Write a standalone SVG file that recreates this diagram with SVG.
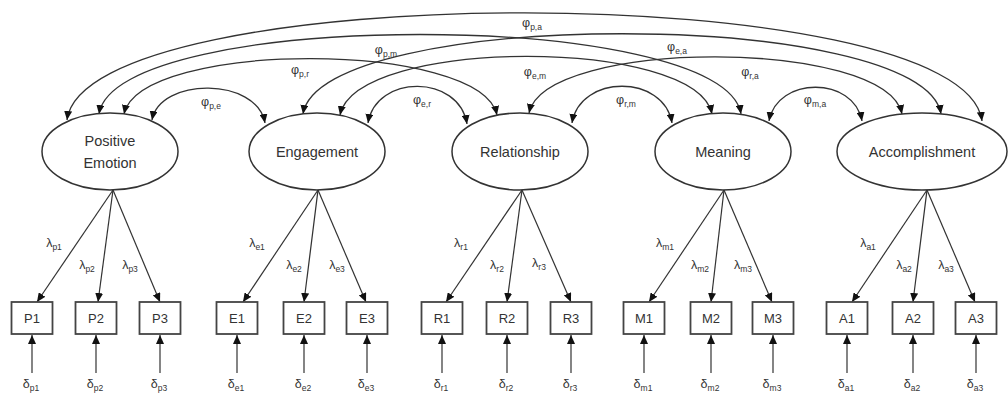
<svg xmlns="http://www.w3.org/2000/svg" width="1008" height="394" viewBox="0 0 1008 394">
<style>
text { font-family: "Liberation Sans", Arial, sans-serif; fill: #333; }
.ell { fill: #fff; stroke: #333; stroke-width: 1.5; }
.box { fill: #fff; stroke: #444; stroke-width: 1.8; }
.cov { fill: none; stroke: #333; stroke-width: 1.3; marker-start: url(#ah); marker-end: url(#ah); }
.ld { fill: none; stroke: #333; stroke-width: 1.2; marker-end: url(#ah); }
.nm { font-size: 14.5px; text-anchor: middle; }
.bx { font-size: 13px; text-anchor: middle; }
.gl { font-size: 12.5px; text-anchor: middle; }
.sub { font-size: 8.5px; }
</style>
<defs>
<marker id="ah" markerUnits="userSpaceOnUse" markerWidth="9" markerHeight="8" refX="9" refY="4" orient="auto-start-reverse">
<path d="M0,0 L9,4 L0,8 z" fill="#111"/>
</marker>
</defs>
<rect width="1008" height="394" fill="#fff"/>

<g id="connectors">
  <!-- covariances -->
  <path class="cov" d="M152,120 C160,77 257,77 265,123"/>
  <path class="cov" d="M368,123 C376,74 459,74 467,124"/>
  <path class="cov" d="M572,123 C580,74 664,74 672,123"/>
  <path class="cov" d="M769,121 C777,76 854,76 862,121"/>
  <path class="cov" d="M124,114 C140,40 481,40 497,115"/>
  <path class="cov" d="M340,115 C356,37 696,37 712,114"/>
  <path class="cov" d="M303,114 C320,7 924,7 941,114"/>
  <path class="cov" d="M99,114 C115,8 725,8 741,114"/>
  <path class="cov" d="M529,113 C545,38 886,38 902,114"/>
  <path class="cov" d="M67,120 C85,-23 964,-23 982,121"/>

  <!-- loadings -->
  <line class="ld" x1="113" y1="190" x2="37" y2="302"/>
  <line class="ld" x1="113" y1="190" x2="98" y2="302"/>
  <line class="ld" x1="113" y1="190" x2="160" y2="302"/>
  <line class="ld" x1="318" y1="190" x2="243" y2="302"/>
  <line class="ld" x1="318" y1="190" x2="304" y2="302"/>
  <line class="ld" x1="318" y1="190" x2="366" y2="302"/>
  <line class="ld" x1="522" y1="190" x2="446" y2="302"/>
  <line class="ld" x1="522" y1="190" x2="507" y2="302"/>
  <line class="ld" x1="522" y1="190" x2="571" y2="302"/>
  <line class="ld" x1="724" y1="190" x2="649" y2="302"/>
  <line class="ld" x1="724" y1="190" x2="711" y2="302"/>
  <line class="ld" x1="724" y1="190" x2="772" y2="302"/>
  <line class="ld" x1="927" y1="190" x2="852" y2="302"/>
  <line class="ld" x1="927" y1="190" x2="913" y2="302"/>
  <line class="ld" x1="927" y1="190" x2="975" y2="302"/>

  <!-- errors -->
  <line class="ld" x1="32" y1="373" x2="32" y2="335"/>
  <line class="ld" x1="96" y1="373" x2="96" y2="335"/>
  <line class="ld" x1="160" y1="373" x2="160" y2="335"/>
  <line class="ld" x1="237" y1="373" x2="237" y2="335"/>
  <line class="ld" x1="304" y1="373" x2="304" y2="335"/>
  <line class="ld" x1="367" y1="373" x2="367" y2="335"/>
  <line class="ld" x1="442" y1="373" x2="442" y2="335"/>
  <line class="ld" x1="507" y1="373" x2="507" y2="335"/>
  <line class="ld" x1="571" y1="373" x2="571" y2="335"/>
  <line class="ld" x1="644" y1="373" x2="644" y2="335"/>
  <line class="ld" x1="711" y1="373" x2="711" y2="335"/>
  <line class="ld" x1="773" y1="373" x2="773" y2="335"/>
  <line class="ld" x1="847" y1="373" x2="847" y2="335"/>
  <line class="ld" x1="913" y1="373" x2="913" y2="335"/>
  <line class="ld" x1="976" y1="373" x2="976" y2="335"/>

  <!-- covariance labels -->
  <text class="gl" x="211" y="106">φ<tspan class="sub" dy="3">p,e</tspan></text>
  <text class="gl" x="422" y="104">φ<tspan class="sub" dy="3">e,r</tspan></text>
  <text class="gl" x="626" y="104">φ<tspan class="sub" dy="3">r,m</tspan></text>
  <text class="gl" x="815" y="104">φ<tspan class="sub" dy="3">m,a</tspan></text>
  <text class="gl" x="300" y="74">φ<tspan class="sub" dy="3">p,r</tspan></text>
  <text class="gl" x="386" y="54">φ<tspan class="sub" dy="3">p,m</tspan></text>
  <text class="gl" x="535" y="76">φ<tspan class="sub" dy="3">e,m</tspan></text>
  <text class="gl" x="750" y="76">φ<tspan class="sub" dy="3">r,a</tspan></text>
  <text class="gl" x="677" y="51">φ<tspan class="sub" dy="3">e,a</tspan></text>
  <text class="gl" x="532" y="27">φ<tspan class="sub" dy="3">p,a</tspan></text>

  <!-- loading labels -->
  <text class="gl" x="54" y="247">λ<tspan class="sub" dy="3">p1</tspan></text>
  <text class="gl" x="87" y="269">λ<tspan class="sub" dy="3">p2</tspan></text>
  <text class="gl" x="130" y="269">λ<tspan class="sub" dy="3">p3</tspan></text>
  <text class="gl" x="257" y="247">λ<tspan class="sub" dy="3">e1</tspan></text>
  <text class="gl" x="294" y="269">λ<tspan class="sub" dy="3">e2</tspan></text>
  <text class="gl" x="337" y="269">λ<tspan class="sub" dy="3">e3</tspan></text>
  <text class="gl" x="461" y="247">λ<tspan class="sub" dy="3">r1</tspan></text>
  <text class="gl" x="497" y="269">λ<tspan class="sub" dy="3">r2</tspan></text>
  <text class="gl" x="539" y="267">λ<tspan class="sub" dy="3">r3</tspan></text>
  <text class="gl" x="665" y="247">λ<tspan class="sub" dy="3">m1</tspan></text>
  <text class="gl" x="700" y="269">λ<tspan class="sub" dy="3">m2</tspan></text>
  <text class="gl" x="743" y="269">λ<tspan class="sub" dy="3">m3</tspan></text>
  <text class="gl" x="868" y="247">λ<tspan class="sub" dy="3">a1</tspan></text>
  <text class="gl" x="904" y="269">λ<tspan class="sub" dy="3">a2</tspan></text>
  <text class="gl" x="946" y="269">λ<tspan class="sub" dy="3">a3</tspan></text>

  <!-- error labels -->
  <text class="gl" x="31" y="388">δ<tspan class="sub" dy="3">p1</tspan></text>
  <text class="gl" x="95" y="388">δ<tspan class="sub" dy="3">p2</tspan></text>
  <text class="gl" x="159" y="388">δ<tspan class="sub" dy="3">p3</tspan></text>
  <text class="gl" x="236" y="388">δ<tspan class="sub" dy="3">e1</tspan></text>
  <text class="gl" x="303" y="388">δ<tspan class="sub" dy="3">e2</tspan></text>
  <text class="gl" x="366" y="388">δ<tspan class="sub" dy="3">e3</tspan></text>
  <text class="gl" x="441" y="388">δ<tspan class="sub" dy="3">r1</tspan></text>
  <text class="gl" x="506" y="388">δ<tspan class="sub" dy="3">r2</tspan></text>
  <text class="gl" x="570" y="388">δ<tspan class="sub" dy="3">r3</tspan></text>
  <text class="gl" x="643" y="388">δ<tspan class="sub" dy="3">m1</tspan></text>
  <text class="gl" x="710" y="388">δ<tspan class="sub" dy="3">m2</tspan></text>
  <text class="gl" x="772" y="388">δ<tspan class="sub" dy="3">m3</tspan></text>
  <text class="gl" x="846" y="388">δ<tspan class="sub" dy="3">a1</tspan></text>
  <text class="gl" x="912" y="388">δ<tspan class="sub" dy="3">a2</tspan></text>
  <text class="gl" x="975" y="388">δ<tspan class="sub" dy="3">a3</tspan></text>
</g>

<g id="positive-emotion">
  <ellipse class="ell" cx="110" cy="151.5" rx="68" ry="38.5"/>
  <text class="nm" x="110" y="146">Positive</text>
  <text class="nm" x="110" y="168">Emotion</text>
</g>
<g id="engagement">
  <ellipse class="ell" cx="317" cy="151.5" rx="68" ry="38.5"/>
  <text class="nm" x="317" y="157">Engagement</text>
</g>
<g id="relationship">
  <ellipse class="ell" cx="520" cy="151.5" rx="68" ry="38.5"/>
  <text class="nm" x="520" y="157">Relationship</text>
</g>
<g id="meaning">
  <ellipse class="ell" cx="723" cy="151.5" rx="68" ry="38.5"/>
  <text class="nm" x="723" y="157">Meaning</text>
</g>
<g id="accomplishment">
  <ellipse class="ell" cx="922" cy="151.5" rx="85" ry="38.5"/>
  <text class="nm" x="922" y="157">Accomplishment</text>
</g>

<g id="P1"><rect class="box" x="11.5" y="302" width="41" height="32"/><text class="bx" x="32" y="323">P1</text></g>
<g id="P2"><rect class="box" x="75.5" y="302" width="41" height="32"/><text class="bx" x="96" y="323">P2</text></g>
<g id="P3"><rect class="box" x="139.5" y="302" width="41" height="32"/><text class="bx" x="160" y="323">P3</text></g>
<g id="E1"><rect class="box" x="216.5" y="302" width="41" height="32"/><text class="bx" x="237" y="323">E1</text></g>
<g id="E2"><rect class="box" x="283.5" y="302" width="41" height="32"/><text class="bx" x="304" y="323">E2</text></g>
<g id="E3"><rect class="box" x="346.5" y="302" width="41" height="32"/><text class="bx" x="367" y="323">E3</text></g>
<g id="R1"><rect class="box" x="421.5" y="302" width="41" height="32"/><text class="bx" x="442" y="323">R1</text></g>
<g id="R2"><rect class="box" x="486.5" y="302" width="41" height="32"/><text class="bx" x="507" y="323">R2</text></g>
<g id="R3"><rect class="box" x="550.5" y="302" width="41" height="32"/><text class="bx" x="571" y="323">R3</text></g>
<g id="M1"><rect class="box" x="623.5" y="302" width="41" height="32"/><text class="bx" x="644" y="323">M1</text></g>
<g id="M2"><rect class="box" x="690.5" y="302" width="41" height="32"/><text class="bx" x="711" y="323">M2</text></g>
<g id="M3"><rect class="box" x="752.5" y="302" width="41" height="32"/><text class="bx" x="773" y="323">M3</text></g>
<g id="A1"><rect class="box" x="826.5" y="302" width="41" height="32"/><text class="bx" x="847" y="323">A1</text></g>
<g id="A2"><rect class="box" x="892.5" y="302" width="41" height="32"/><text class="bx" x="913" y="323">A2</text></g>
<g id="A3"><rect class="box" x="955.5" y="302" width="41" height="32"/><text class="bx" x="976" y="323">A3</text></g>
</svg>
